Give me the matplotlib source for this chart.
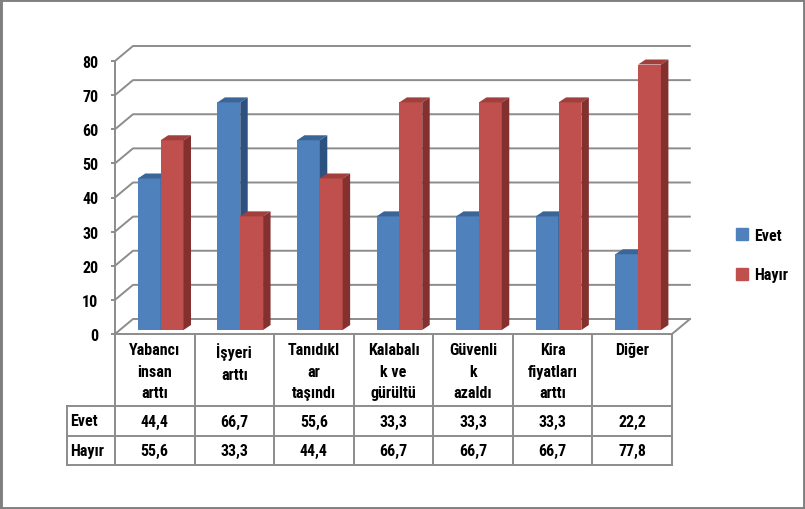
import matplotlib
matplotlib.use('Agg')
import matplotlib.pyplot as plt
from matplotlib.patches import Polygon, Patch, Rectangle
import numpy as np

plt.rcParams['font.family'] = ['DejaVu Sans Condensed', 'Roboto Condensed', 'Roboto', 'DejaVu Sans']
plt.rcParams['font.weight'] = 'bold'

categories = ['Yabancı\ninsan\narttı', 'İşyeri\narttı', 'Tanıdıkl\nar\ntaşındı',
              'Kalabalı\nk ve\ngürültü', 'Güvenli\nk\nazaldı', 'Kira\nfiyatları\narttı', 'Diğer']
evet = [44.4, 66.7, 55.6, 33.3, 33.3, 33.3, 22.2]
hayir = [55.6, 33.3, 44.4, 66.7, 66.7, 66.7, 77.8]
series = ['Evet', 'Hayır']
yticks = np.arange(0, 81, 10)

# colours: front, top, side
blue = ('#4F81BD', '#3B6497', '#2E5280')
red = ('#C0504D', '#A03F3C', '#83302E')
grid_c = '#8C8C8C'
PX = 3.4125  # pixels per value unit
FS = 11.5

fig = plt.figure(figsize=(8.05, 5.10), dpi=100)
ax = fig.add_axes([115/805, (510-335)/510, 557/805, 273/510])
ax.set_xlim(0, 7)
ax.set_ylim(0, 80)

# wall / floor depth
wdx, wdy = 18/79.6, 15/PX
# bar placement inside the depth
odx, ody = 0.06, 4/PX
bdx, bdy = 0.094, 5/PX
bw = 0.287

for t in yticks:
    ax.plot([0, wdx, 7 + wdx + 0.01], [t, t + wdy, t + wdy], color=grid_c, lw=1.4,
            clip_on=False, zorder=1, solid_capstyle='butt')
ax.plot([7, 7 + wdx], [0, wdy], color=grid_c, lw=1.4, clip_on=False, zorder=1)

for i in range(len(categories)):
    for j, (vals, col) in enumerate([(evet, blue), (hayir, red)]):
        v = vals[i]
        l = i + 0.287 + j * bw
        r = l + bw
        z = 3 + j
        ax.bar(l, v, width=bw, bottom=ody, align='edge', color=col[0], zorder=z,
               clip_on=False, linewidth=0)
        top = [(l, v + ody), (r, v + ody), (r + bdx, v + ody + bdy), (l + bdx, v + ody + bdy)]
        side = [(r, ody), (r, v + ody), (r + bdx, v + ody + bdy), (r + bdx, ody + bdy)]
        ax.add_patch(Polygon(top, closed=True, fc=col[1], ec='none', zorder=z, clip_on=False))
        ax.add_patch(Polygon(side, closed=True, fc=col[2], ec='none', zorder=z, clip_on=False))

for s in ['top', 'right']:
    ax.spines[s].set_visible(False)
for s in ['left', 'bottom']:
    ax.spines[s].set_color(grid_c)
    ax.spines[s].set_linewidth(1.4)
ax.set_facecolor('none')
ax.set_xticks([])
ax.set_yticks(yticks)
ax.tick_params(axis='y', direction='out', length=3, width=1.4, color=grid_c,
               labelsize=FS, pad=9)

# data table
tc = '#8C8C8C'
y_hdr = -72 / PX
y_ev = -102 / PX
y_hy = -131 / PX
x_lab = -48.3 / 79.6
kw = dict(color=tc, lw=1.4, clip_on=False, zorder=2)
for k in range(len(categories) + 1):
    ax.plot([k, k], [0, y_hy], **kw)
ax.plot([x_lab, x_lab], [y_hdr, y_hy], **kw)
for yy in [y_hdr, y_ev, y_hy]:
    ax.plot([x_lab, 7], [yy, yy], **kw)

for i, c in enumerate(categories):
    ax.text(i + 0.5, -8 / PX, c, ha='center', va='top', fontsize=FS,
            linespacing=1.55, clip_on=False)
    ax.text(i + 0.5, (y_hdr + y_ev) / 2, f'{evet[i]:.1f}'.replace('.', ','),
            ha='center', va='center', fontsize=FS)
    ax.text(i + 0.5, (y_ev + y_hy) / 2, f'{hayir[i]:.1f}'.replace('.', ','),
            ha='center', va='center', fontsize=FS)
ax.text(x_lab + 0.04, (y_hdr + y_ev) / 2, series[0], ha='left', va='center', fontsize=FS)
ax.text(x_lab + 0.04, (y_ev + y_hy) / 2, series[1], ha='left', va='center', fontsize=FS)

handles = [Patch(color=blue[0]), Patch(color=red[0])]
fig.legend(handles, series, loc='center left', bbox_to_anchor=(722/805, 1 - 256/510),
           frameon=False, fontsize=FS, handlelength=0.75, handleheight=0.75,
           handletextpad=0.35, labelspacing=1.55)

fig.patches.append(Rectangle((0, 0), 1, 1, transform=fig.transFigure, fill=False,
                             ec='#7F7F7F', lw=3.5, zorder=10))

fig.savefig('out.png', dpi=100)
